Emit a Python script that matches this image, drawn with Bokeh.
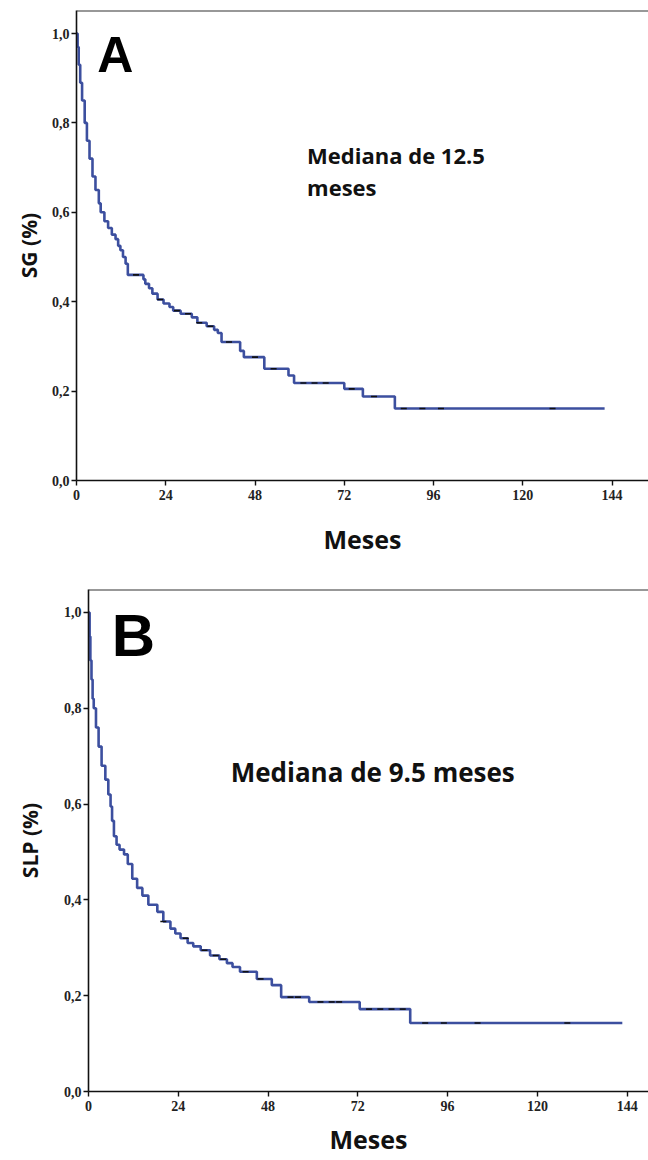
import numpy as np
from bokeh.plotting import figure
from bokeh.models import Span, Label, FixedTicker, CustomJSTickFormatter, Range1d
from bokeh.embed import file_html
from bokeh.resources import INLINE

# ---- Data ----
months_A = [0, 0.3, 0.6, 1.0, 1.5, 2.2, 2.8, 3.5, 4.3, 5.1, 6.0, 6.5, 7.5, 8.5, 9.5,
            10.5, 11.2, 11.8, 12.5, 13.2, 13.8, 18.0, 18.5, 19.5, 20.4, 21.8, 23.4, 25.0,
            26.0, 28.0, 31.0, 32.5, 35.0, 37.0, 38.0, 39.0, 44.0, 45.0, 50.5, 57.0, 58.5,
            72.0, 77.0, 85.6, 142.0]
surv_A = [1.0, 0.97, 0.93, 0.89, 0.85, 0.80, 0.76, 0.72, 0.68, 0.65, 0.62, 0.60, 0.58, 0.565,
          0.55, 0.54, 0.525, 0.515, 0.50, 0.485, 0.46, 0.45, 0.44, 0.43, 0.418, 0.405, 0.396,
          0.388, 0.38, 0.373, 0.365, 0.353, 0.345, 0.337, 0.33, 0.31, 0.29, 0.276, 0.25, 0.235,
          0.218, 0.205, 0.188, 0.161, 0.161]
censor_A = [16, 22.5, 27, 30, 33, 36, 41, 48, 53, 61, 64, 67, 74, 80, 88, 93, 98, 128]

months_B = [0, 0.3, 0.5, 0.8, 1.1, 1.4, 2.0, 2.7, 3.5, 4.5, 5.3, 5.9, 6.3, 6.8, 7.5, 8.3,
            9.5, 10.5, 11.7, 13.0, 14.4, 16.0, 18.4, 20.0, 21.9, 23.2, 24.6, 26.5, 28.0, 30.0,
            32.5, 35.0, 37.0, 38.5, 40.5, 45.0, 49.0, 51.5, 59.0, 72.5, 86.0, 142.7]
surv_B = [1.0, 0.95, 0.90, 0.86, 0.82, 0.80, 0.76, 0.72, 0.68, 0.651, 0.62, 0.595, 0.565,
          0.533, 0.515, 0.505, 0.495, 0.475, 0.444, 0.425, 0.409, 0.39, 0.375, 0.355, 0.34,
          0.33, 0.32, 0.31, 0.303, 0.295, 0.284, 0.276, 0.268, 0.26, 0.25, 0.235, 0.222,
          0.197, 0.187, 0.172, 0.143, 0.143]
censor_B = [20, 26, 31, 34, 36, 42, 46, 54, 56, 62, 65, 67, 75, 78, 81, 84, 90, 95, 104, 128]

x_ticks = [0, 24, 48, 72, 96, 120, 144]
y_ticks = [0.0, 0.2, 0.4, 0.6, 0.8, 1.0]

x_title = "Meses"
y_title_A = "SG (%)"
y_title_B = "SLP (%)"
median_A = ["Mediana de 12.5", "meses"]
median_B = ["Mediana de 9.5 meses"]

LINE_COLOR = "#3c4f9f"
TICK_FONT = "Liberation Sans Narrow"
TITLE_FONT = "Open Sans"


def step_value(times, surv, t):
    idx = np.searchsorted(np.asarray(times), np.asarray(t), side="right") - 1
    return np.asarray(surv)[idx]


def make_panel(times, surv, cens, y_title, height, width, b_left, b_top, b_bottom,
               x_end, y_end, x_label_standoff, y_label_standoff):
    p = figure(width=width, height=height, output_backend="svg", toolbar_location=None,
               x_range=Range1d(0, x_end), y_range=Range1d(0, y_end),
               min_border_left=b_left, min_border_right=0, min_border_top=b_top,
               min_border_bottom=b_bottom)
    p.outline_line_color = None
    p.xgrid.visible = False
    p.ygrid.visible = False
    p.background_fill_color = "white"
    p.border_fill_color = "white"

    for ax in (p.xaxis[0], p.yaxis[0]):
        ax.axis_line_color = "#111111"
        ax.axis_line_width = 1.6
        ax.major_tick_line_color = "#111111"
        ax.major_tick_line_width = 1.4
        ax.major_tick_out = 5
        ax.major_tick_in = 0
        ax.minor_tick_line_color = None
        ax.major_label_text_font = TICK_FONT
        ax.major_label_text_font_style = "bold"
        ax.major_label_text_font_size = "14px"
        ax.major_label_text_color = "#222222"
        ax.axis_label_text_font = TITLE_FONT
        ax.axis_label_text_font_style = "bold"
        ax.axis_label_text_color = "#111111"

    p.xaxis[0].ticker = FixedTicker(ticks=x_ticks)
    p.yaxis[0].ticker = FixedTicker(ticks=y_ticks)
    p.yaxis[0].formatter = CustomJSTickFormatter(code="return tick.toFixed(1).replace('.', ',');")
    p.xaxis[0].major_label_standoff = 4
    p.yaxis[0].major_label_standoff = 2
    p.xaxis[0].axis_label = x_title
    p.yaxis[0].axis_label = y_title
    p.xaxis[0].axis_label_text_font_size = "25px"
    p.yaxis[0].axis_label_text_font_size = "21px"
    p.xaxis[0].axis_label_standoff = x_label_standoff
    p.yaxis[0].axis_label_standoff = y_label_standoff

    # top frame line
    p.add_layout(Span(location=y_end, dimension="width", line_color="#333333", line_width=2))

    p.step(times, surv, mode="after", line_color=LINE_COLOR, line_width=2.6)
    cy = step_value(times, surv, cens)
    p.scatter(cens, cy, marker="dash", size=6, line_color="#111111", line_width=1.6)
    return p


# Panel A
pA = make_panel(months_A, surv_A, censor_A, y_title_A, height=570, width=648,
                b_left=76, b_top=10, b_bottom=90, x_end=153.8, y_end=1.0515,
                x_label_standoff=19, y_label_standoff=6)
pA.add_layout(Label(x=5.6, y=0.951, text="A", text_font="Liberation Sans",
                    text_font_style="bold", text_font_size="50px", text_color="#000000",
                    text_baseline="alphabetic"))
pA.add_layout(Label(x=62.0, y=0.729, text=median_A[0], text_font=TITLE_FONT,
                    text_font_style="bold", text_font_size="22px", text_color="#111111",
                    text_baseline="alphabetic"))
pA.add_layout(Label(x=62.0, y=0.656, text=median_A[1], text_font=TITLE_FONT,
                    text_font_style="bold", text_font_size="22px", text_color="#111111",
                    text_baseline="alphabetic"))

# Panel B
pB = make_panel(months_B, surv_B, censor_B, y_title_B, height=588, width=648,
                b_left=88, b_top=19, b_bottom=64, x_end=149.7, y_end=1.048,
                x_label_standoff=8, y_label_standoff=17)
pB.add_layout(Label(x=6.2, y=0.953, text="B", text_font="Liberation Sans",
                    text_font_style="bold", text_font_size="60px", text_color="#000000",
                    text_baseline="alphabetic"))
pB.add_layout(Label(x=38.0, y=0.666, text=median_B[0], text_font=TITLE_FONT,
                    text_font_style="bold", text_font_size="26px", text_color="#111111",
                    text_baseline="alphabetic"))

open("out.html", "w").write(file_html([pA, pB], INLINE))
